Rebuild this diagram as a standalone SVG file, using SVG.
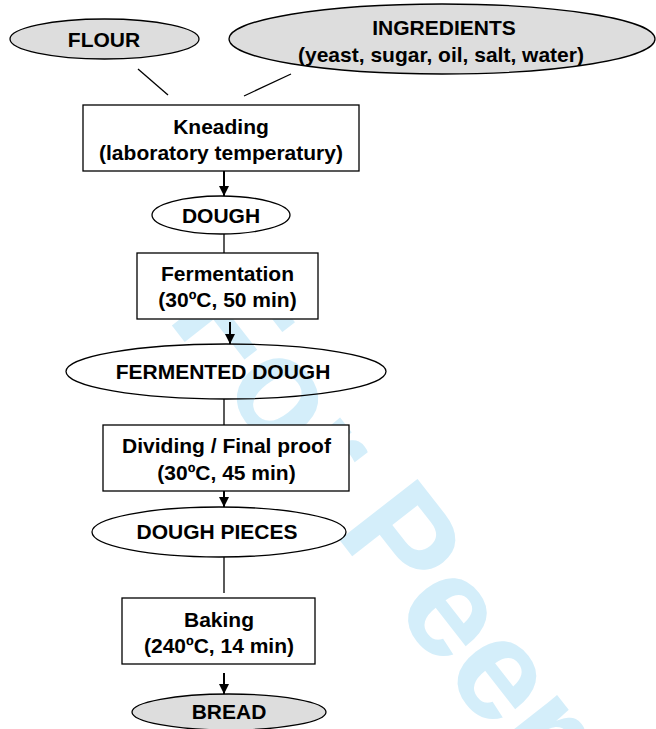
<svg xmlns="http://www.w3.org/2000/svg" width="656" height="729" viewBox="0 0 656 729">
<style>
text{font-family:"Liberation Sans",Arial,sans-serif;font-weight:bold;font-size:21px;fill:#000;text-anchor:middle}
.box{fill:#fff;stroke:#000;stroke-width:1.3}
.ell{fill:none;stroke:#000;stroke-width:1.3}
.gray{fill:#dddddd;stroke:#000;stroke-width:1.3}
.ln{stroke:#000;stroke-width:1.3;fill:none}
.ar{stroke:#000;stroke-width:2;fill:none;marker-end:url(#ah)}
.wm{font-size:144px;fill:#d4eefa;text-anchor:start}
</style>
<defs>
<marker id="ah" viewBox="0 0 10 10" refX="10" refY="5" markerWidth="10" markerHeight="11" markerUnits="userSpaceOnUse" orient="auto">
<path d="M0,0 L10,5 L0,10 Z" fill="#000"/>
</marker>
</defs>
<rect width="656" height="729" fill="#fff"/>
<text class="wm" transform="translate(166,318) rotate(52)">For Peer Review</text>
<g id="connectors">
<line class="ln" x1="138" y1="69" x2="168" y2="95"/>
<line class="ln" x1="291" y1="74" x2="244" y2="96"/>
<line class="ar" x1="224" y1="171" x2="224" y2="196"/>
<line class="ln" x1="224" y1="234" x2="224" y2="253"/>
<line class="ar" x1="230" y1="322" x2="230" y2="344"/>
<line class="ln" x1="224" y1="399" x2="224" y2="425"/>
<line class="ar" x1="224" y1="488" x2="224" y2="507"/>
<line class="ln" x1="224" y1="557" x2="224" y2="593"/>
<line class="ar" x1="224" y1="673" x2="224" y2="694"/>
</g>
<g id="flour">
<ellipse class="gray" cx="104.5" cy="39" rx="94.5" ry="20"/>
<text x="104" y="47">FLOUR</text>
</g>
<g id="ingredients">
<ellipse class="gray" cx="442" cy="39" rx="213" ry="35"/>
<text x="444" y="35">INGREDIENTS</text>
<text x="441" y="61.5">(yeast, sugar, oil, salt, water)</text>
</g>
<g id="kneading">
<rect class="box" x="83" y="105" width="276" height="66"/>
<text x="221" y="134">Kneading</text>
<text x="221" y="160">(laboratory temperatury)</text>
</g>
<g id="dough">
<ellipse class="ell" cx="221" cy="215" rx="69" ry="19"/>
<text x="221" y="222.5">DOUGH</text>
</g>
<g id="fermentation">
<rect class="box" x="137" y="253" width="181" height="66"/>
<text x="227.5" y="281">Fermentation</text>
<text x="227.5" y="306.5">(30ºC, 50 min)</text>
</g>
<g id="fermented-dough">
<ellipse class="ell" cx="226" cy="371.5" rx="160" ry="27.5"/>
<text x="223" y="379">FERMENTED DOUGH</text>
</g>
<g id="dividing">
<rect class="box" x="103" y="425" width="246" height="66"/>
<text x="226.5" y="453">Dividing / Final proof</text>
<text x="226.5" y="480">(30ºC, 45 min)</text>
</g>
<g id="dough-pieces">
<ellipse class="ell" cx="219" cy="532" rx="127" ry="25"/>
<text x="217" y="539">DOUGH PIECES</text>
</g>
<g id="baking">
<rect class="box" x="122" y="598" width="193" height="66"/>
<text x="219" y="626.5">Baking</text>
<text x="219" y="653">(240ºC, 14 min)</text>
</g>
<g id="bread">
<ellipse class="gray" cx="229" cy="712" rx="97" ry="18"/>
<text x="229" y="719">BREAD</text>
</g>
</svg>
